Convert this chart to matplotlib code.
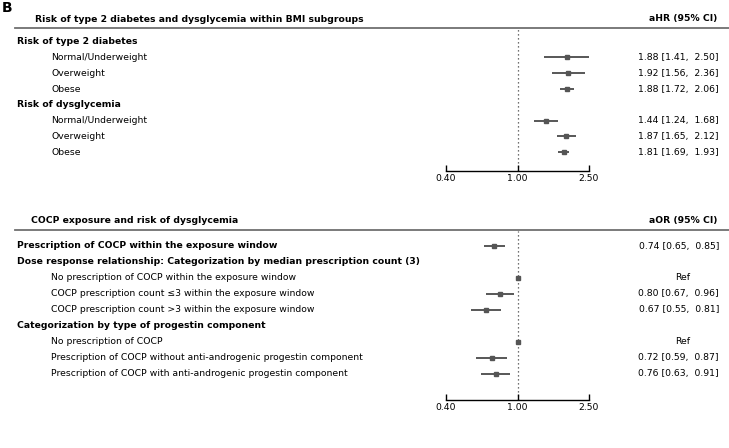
import matplotlib
matplotlib.use("Agg")
import matplotlib.pyplot as plt
from matplotlib.lines import Line2D
from matplotlib.transforms import blended_transform_factory
from matplotlib.ticker import FixedLocator, NullLocator

# ---------------- data ----------------
top_title = "Risk of type 2 diabetes and dysglycemia within BMI subgroups"
top_header = "aHR (95% CI)"
top_labels = ["Risk of type 2 diabetes", "Normal/Underweight", "Overweight", "Obese",
              "Risk of dysglycemia", "Normal/Underweight", "Overweight", "Obese"]
top_is_group = [True, False, False, False, True, False, False, False]
top_est = [None, 1.88, 1.92, 1.88, None, 1.44, 1.87, 1.81]
top_lo = [None, 1.41, 1.56, 1.72, None, 1.24, 1.65, 1.69]
top_hi = [None, 2.50, 2.36, 2.06, None, 1.68, 2.12, 1.93]
top_text = ["", "1.88 [1.41,  2.50]", "1.92 [1.56,  2.36]", "1.88 [1.72,  2.06]", "",
            "1.44 [1.24,  1.68]", "1.87 [1.65,  2.12]", "1.81 [1.69,  1.93]"]

bot_title = "COCP exposure and risk of dysglycemia"
bot_header = "aOR (95% CI)"
bot_labels = ["Prescription of COCP within the exposure window",
              "Dose response relationship: Categorization by median prescription count (3)",
              "No prescription of COCP within the exposure window",
              "COCP prescription count \u22643 within the exposure window",
              "COCP prescription count >3 within the exposure window",
              "Categorization by type of progestin component",
              "No prescription of COCP",
              "Prescription of COCP without anti-androgenic progestin component",
              "Prescription of COCP with anti-androgenic progestin component"]
bot_is_group = [True, True, False, False, False, True, False, False, False]
bot_est = [0.74, None, 1.00, 0.80, 0.67, None, 1.00, 0.72, 0.76]
bot_lo = [0.65, None, 1.00, 0.67, 0.55, None, 1.00, 0.59, 0.63]
bot_hi = [0.85, None, 1.00, 0.96, 0.81, None, 1.00, 0.87, 0.91]
bot_text = ["0.74 [0.65,  0.85]", "", "Ref", "0.80 [0.67,  0.96]", "0.67 [0.55,  0.81]",
            "", "Ref", "0.72 [0.59,  0.87]", "0.76 [0.63,  0.91]"]

x_ticks = [0.40, 1.00, 2.50]
x_ticklabels = ["0.40", "1.00", "2.50"]

# ---------------- layout ----------------
W, H = 729, 448
FS = 6.7
fig = plt.figure(figsize=(W / 100, H / 100), dpi=100)


def fx(px):
    return px / W


def fy(py):
    return 1 - py / H


def panel(title, header, labels, is_group, est, lo, hi, texts,
          title_x, title_y, line_y, r0, step, ax_top, ax_bot):
    fig.text(fx(title_x), fy(title_y), title, fontsize=FS, fontweight="bold",
             ha="left", va="center")
    fig.text(fx(717), fy(title_y), header, fontsize=FS, fontweight="bold",
             ha="right", va="center")
    fig.add_artist(Line2D([fx(15), 1.0], [fy(line_y), fy(line_y)],
                          color="#707070", lw=1.3))

    ax = fig.add_axes([fx(446), fy(ax_bot), fx(589) - fx(446), (ax_bot - ax_top) / H])
    ax.set_xscale("log")
    ax.set_xlim(x_ticks[0], x_ticks[-1])
    n = len(labels)
    ax.set_ylim((ax_bot - r0) / step, (ax_top - r0) / step)
    ax.patch.set_alpha(0)
    for s in ["top", "left", "right"]:
        ax.spines[s].set_visible(False)
    ax.spines["bottom"].set_linewidth(1.0)
    ax.yaxis.set_major_locator(NullLocator())
    ax.xaxis.set_major_locator(FixedLocator(x_ticks))
    ax.xaxis.set_minor_locator(NullLocator())
    ax.set_xticklabels(x_ticklabels)
    ax.tick_params(axis="x", direction="in", length=4, width=1, labelsize=FS, pad=2.5)
    ax.axvline(1.0, ls=(0, (1, 2.2)), color="#444444", lw=0.9, zorder=1)

    tr = blended_transform_factory(fig.transFigure, ax.transData)
    for i in range(n):
        if is_group[i]:
            ax.text(fx(17), i, labels[i], transform=tr, fontsize=FS, fontweight="bold",
                    ha="left", va="center")
        else:
            ax.text(fx(51), i, labels[i], transform=tr, fontsize=FS,
                    ha="left", va="center")
        if texts[i]:
            if texts[i] == "Ref":
                ax.text(fx(683), i, texts[i], transform=tr, fontsize=FS,
                        ha="center", va="center")
            else:
                ax.text(fx(719), i, texts[i], transform=tr, fontsize=FS,
                        ha="right", va="center")
        if est[i] is not None:
            ax.plot([lo[i], hi[i]], [i, i], color="#4a4a4a", lw=1.3,
                    solid_capstyle="butt", zorder=2)
            ax.plot([est[i]], [i], marker="s", ms=3.2, color="#555555",
                    mec="#555555", ls="none", zorder=3)
    return ax


panel(top_title, top_header, top_labels, top_is_group, top_est, top_lo, top_hi, top_text,
      35, 19, 27.7, 41.7, 15.8, 29, 171)
panel(bot_title, bot_header, bot_labels, bot_is_group, bot_est, bot_lo, bot_hi, bot_text,
      31, 220.7, 230, 246, 15.96, 231, 399.5)

fig.text(fx(2), fy(8), "B", fontsize=10, fontweight="bold", ha="left", va="center")

fig.savefig("out.png", dpi=100)
